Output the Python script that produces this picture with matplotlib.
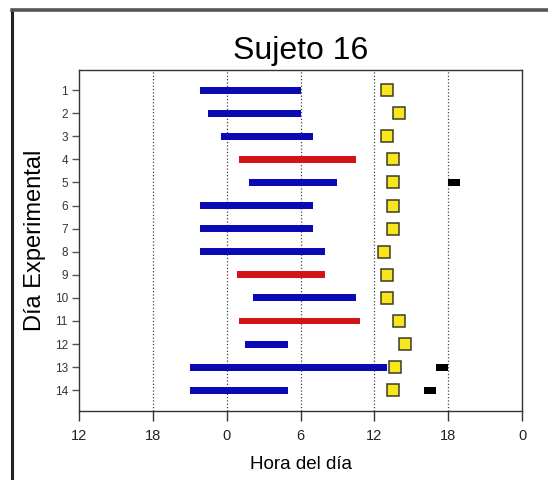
import numpy as np
import matplotlib.pyplot as plt
from matplotlib.lines import Line2D

plt.rcParams['font.family'] = ['Liberation Sans', 'DejaVu Sans']

# Datos (hora continua: -12 = 12h del dia anterior, 24 = 0h del dia siguiente)
dias = np.arange(1, 15)
inicio = [-2.2, -1.5, -0.5, 1.0, 1.8, -2.2, -2.2, -2.2, 0.8, 2.1, 1.0, 1.5, -3.0, -3.0]
fin = [6.0, 6.0, 7.0, 10.5, 9.0, 7.0, 7.0, 8.0, 8.0, 10.5, 10.8, 5.0, 13.0, 5.0]
tipo = ["a", "a", "a", "r", "a", "a", "a", "a", "r", "a", "r", "a", "a", "a"]
hora_amarilla = [13.0, 14.0, 13.0, 13.5, 13.5, 13.5, 13.5, 12.75, 13.0, 13.0, 14.0, 14.5, 13.7, 13.5]
dias_negro = [5, 13, 14]
negro_ini = [18.0, 17.0, 16.0]
negro_fin = [19.0, 18.0, 17.0]

ticks_x = [-12, -6, 0, 6, 12, 18, 24]
etiquetas_x = ["12", "18", "0", "6", "12", "18", "0"]

colores = {"a": "#0a0ab4", "r": "#d41414"}


def main():
    fig = plt.figure(figsize=(5.48, 4.8), dpi=100)
    ax = fig.add_axes([0.1442, 0.1437, 0.8084, 0.7105])

    # lineas punteadas verticales
    for xv in ticks_x[1:-1]:
        ax.axvline(xv, color="#444444", linestyle=":", linewidth=0.9, zorder=1)

    ini = np.array(inicio)
    dur = np.array(fin) - ini
    ax.barh(dias, dur, left=ini, height=0.3,
            color=[colores[t] for t in tipo], zorder=2)

    ax.barh(dias_negro, np.array(negro_fin) - np.array(negro_ini),
            left=negro_ini, height=0.3, color="black", zorder=2)

    ax.plot(hora_amarilla, dias, linestyle="none", marker="s", markersize=8.5,
            markerfacecolor="#f8e61c", markeredgecolor="#3a3a2a",
            markeredgewidth=1.1, zorder=3)

    ax.set_xlim(-12, 24)
    ax.set_ylim(14.9, 0.13)
    ax.set_xticks(ticks_x)
    ax.set_xticklabels(etiquetas_x, fontsize=10.5, color="#222222")
    ax.set_yticks(dias)
    ax.set_yticklabels([str(d) for d in dias], fontsize=8.5, color="#333333")
    ax.tick_params(axis="x", direction="out", length=7, width=1, color="#333333", pad=6)
    ax.tick_params(axis="y", direction="out", length=5, width=1, color="#555555", pad=3)
    for s in ax.spines.values():
        s.set_color("#333333")
        s.set_linewidth(1.0)

    ax.set_title("Sujeto 16", fontsize=23, pad=8)
    ax.set_xlabel("Hora del día", fontsize=13.5, labelpad=9)
    ax.set_ylabel("Día Experimental", fontsize=17, labelpad=6)

    # marco exterior
    fig.add_artist(Line2D([12 / 548, 12 / 548], [0, 1 - 10 / 480],
                          transform=fig.transFigure, color="#222222", linewidth=2.2))
    fig.add_artist(Line2D([12 / 548, 1], [1 - 10 / 480, 1 - 10 / 480],
                          transform=fig.transFigure, color="#555555", linewidth=2.6))

    fig.savefig("out.png", dpi=100)


if __name__ == "__main__":
    main()
